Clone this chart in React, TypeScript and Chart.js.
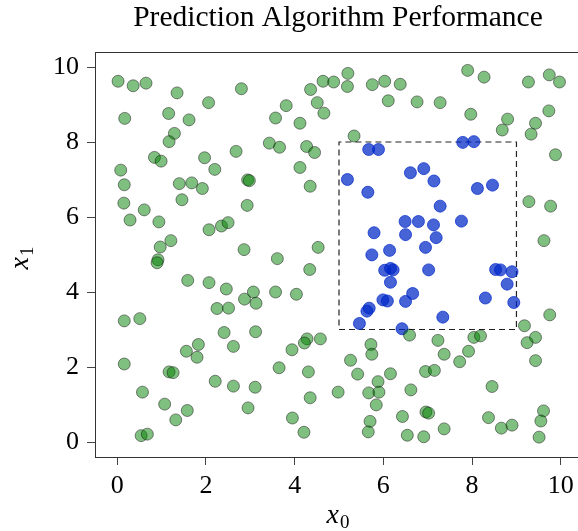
import { useEffect, useRef } from 'react';
import { Chart, registerables } from 'chart.js';

Chart.register(...registerables);

const titleText = 'Prediction Algorithm Performance';
const xTicks = [0, 2, 4, 6, 8, 10];
const yTicks = [0, 2, 4, 6, 8, 10];
const xRange = [-0.5, 10.5];
const yRange = [-0.4, 10.4];

// dashed region corners
const boxX = [5, 9, 9, 5, 5];
const boxY = [3, 3, 8, 8, 3];

// points inside region (blue)
const insidePoints: [number, number][] = [
  [5.67, 7.80], [5.89, 7.80], [5.19, 7.00], [6.61, 7.18], [6.91, 7.29], [7.14, 6.96],
  [7.79, 7.99], [8.04, 8.01], [8.12, 6.76], [8.46, 6.85], [5.65, 6.66], [7.28, 6.29],
  [6.49, 5.88], [6.79, 5.88], [7.13, 5.79], [7.76, 5.89], [6.50, 5.53], [5.79, 5.58],
  [7.19, 5.45], [5.74, 4.99], [6.14, 5.11], [6.95, 5.19], [6.03, 4.58], [6.16, 4.63],
  [6.22, 4.59], [7.02, 4.59], [8.53, 4.60], [8.64, 4.59], [8.90, 4.54], [6.16, 4.26],
  [8.79, 4.21], [6.66, 3.96], [5.99, 3.79], [6.09, 3.76], [6.50, 3.75], [8.30, 3.84],
  [8.94, 3.72], [5.68, 3.57], [5.63, 3.49], [7.34, 3.33], [5.46, 3.16], [6.42, 3.02],
];

// points outside region (green)
const outsidePoints: [number, number][] = [
  [0.02, 9.62], [0.36, 9.50], [0.65, 9.57], [1.35, 9.31], [2.80, 9.42], [2.06, 9.05],
  [0.17, 8.63], [1.16, 8.76], [1.62, 8.59], [1.29, 8.23], [1.17, 8.01], [0.84, 7.59],
  [0.99, 7.49], [1.97, 7.58], [2.68, 7.75], [0.08, 7.25], [2.20, 7.27], [2.94, 6.99],
  [2.98, 6.97], [0.16, 6.86], [1.40, 6.89], [1.68, 6.91], [1.92, 6.76], [5.20, 9.83],
  [4.64, 9.62], [4.88, 9.60], [5.19, 9.48], [5.75, 9.53], [6.03, 9.62], [6.38, 9.54],
  [4.36, 9.40], [6.11, 9.10], [3.81, 8.97], [4.51, 9.05], [4.66, 8.77], [3.57, 8.64],
  [4.12, 8.50], [5.34, 8.16], [3.43, 7.97], [3.66, 7.86], [4.27, 7.88], [4.45, 7.72],
  [4.12, 7.32], [4.35, 6.82], [7.90, 9.91], [8.27, 9.73], [9.27, 9.60], [9.74, 9.79],
  [9.97, 9.60], [6.76, 9.07], [7.28, 9.05], [7.97, 8.74], [8.80, 8.61], [9.73, 8.83],
  [9.43, 8.50], [8.68, 8.32], [9.33, 8.21], [9.88, 7.66], [0.15, 6.37], [0.61, 6.19],
  [0.29, 5.92], [0.94, 5.87], [1.46, 6.46], [2.93, 6.31], [2.07, 5.66], [2.35, 5.76],
  [2.50, 5.85], [1.21, 5.37], [0.97, 5.20], [0.92, 4.86], [0.90, 4.78], [2.86, 5.13],
  [1.59, 4.31], [2.07, 4.25], [2.46, 4.08], [3.07, 4.00], [2.87, 3.81], [3.13, 3.70],
  [2.25, 3.56], [2.51, 3.57], [0.16, 3.23], [0.51, 3.29], [4.53, 5.19], [3.61, 4.89],
  [4.34, 4.60], [3.57, 4.00], [4.04, 3.94], [9.28, 6.41], [9.77, 6.29], [9.62, 5.37],
  [9.75, 3.39], [9.18, 3.10], [2.41, 2.92], [3.12, 2.94], [1.83, 2.60], [2.62, 2.55],
  [1.56, 2.42], [1.80, 2.26], [0.16, 2.08], [1.17, 1.87], [1.26, 1.85], [2.21, 1.62],
  [2.62, 1.49], [3.11, 1.46], [0.57, 1.33], [1.07, 1.01], [1.58, 0.84], [1.32, 0.59],
  [2.95, 0.91], [0.54, 0.17], [0.68, 0.21], [4.28, 2.75], [4.22, 2.64], [4.58, 2.75],
  [3.94, 2.46], [5.72, 2.60], [5.74, 2.34], [5.26, 2.18], [3.65, 1.98], [4.31, 1.87],
  [5.42, 1.81], [6.16, 1.82], [5.88, 1.61], [4.98, 1.33], [5.67, 1.31], [5.90, 1.33],
  [4.35, 1.18], [5.84, 0.99], [6.62, 1.39], [3.95, 0.64], [5.70, 0.55], [6.43, 0.68],
  [4.21, 0.26], [5.66, 0.27], [6.54, 0.18], [6.59, 2.85], [7.23, 2.71], [8.04, 2.79],
  [8.19, 2.83], [9.43, 2.79], [9.24, 2.65], [7.37, 2.34], [7.92, 2.42], [7.72, 2.14],
  [9.43, 2.17], [6.95, 1.88], [7.15, 1.91], [8.45, 1.48], [6.96, 0.80], [7.02, 0.77],
  [8.37, 0.65], [9.61, 0.83], [9.55, 0.56], [8.66, 0.37], [8.90, 0.45], [7.37, 0.35],
  [6.91, 0.14], [9.51, 0.13],
];

const SERIF = '"Liberation Serif", "DejaVu Serif", serif';

function drawMathLabel(ctx: CanvasRenderingContext2D, base: string, sub: string, x: number, y: number, rotate: boolean) {
  ctx.save();
  ctx.translate(x, y);
  if (rotate) ctx.rotate(-Math.PI / 2);
  ctx.textBaseline = 'alphabetic';
  ctx.textAlign = 'left';
  ctx.font = `italic 28px ${SERIF}`;
  const wb = ctx.measureText(base).width;
  ctx.font = `19px ${SERIF}`;
  const ws = ctx.measureText(sub).width;
  const total = wb + ws + 1;
  ctx.fillStyle = '#000';
  ctx.font = `italic 28px ${SERIF}`;
  ctx.fillText(base, -total / 2, 8);
  ctx.font = `19px ${SERIF}`;
  ctx.fillText(sub, -total / 2 + wb + 1, 13);
  ctx.restore();
}

const decorPlugin = {
  id: 'decor',
  afterDraw(chart: any) {
    const { ctx, chartArea: a } = chart;
    ctx.save();
    ctx.strokeStyle = '#333';
    ctx.lineWidth = 1;
    ctx.beginPath();
    ctx.moveTo(a.left, a.top + 0.5);
    ctx.lineTo(a.right, a.top + 0.5);
    ctx.lineTo(a.right, a.bottom);
    ctx.stroke();
    ctx.fillStyle = '#000';
    ctx.font = `29.5px ${SERIF}`;
    ctx.textAlign = 'center';
    ctx.textBaseline = 'alphabetic';
    ctx.fillText(titleText, (a.left + a.right) / 2 - 1, 26);
    ctx.restore();
    drawMathLabel(ctx, 'x', '0', 338, 515, false);
    drawMathLabel(ctx, 'x', '1', 20, 258, true);
  },
};

export default function App() {
  const ref = useRef<HTMLCanvasElement>(null);
  useEffect(() => {
    const canvas = ref.current!;
    const tickFont = { family: SERIF, size: 26 };
    const chart = new Chart(canvas, {
      type: 'scatter',
      data: {
        datasets: [
          {
            label: 'outside',
            data: outsidePoints.map(([x, y]) => ({ x, y })),
            backgroundColor: 'rgba(0,128,0,0.5)',
            borderColor: 'rgba(0,0,0,0.45)',
            borderWidth: 1,
            pointRadius: 6,
          },
          {
            label: 'inside',
            data: insidePoints.map(([x, y]) => ({ x, y })),
            backgroundColor: 'rgba(0,40,200,0.72)',
            borderColor: 'rgba(0,40,200,0.72)',
            borderWidth: 1,
            pointRadius: 6,
          },
          {
            label: 'region',
            data: boxX.map((x, i) => ({ x, y: boxY[i] })),
            showLine: true,
            borderColor: '#222',
            borderWidth: 1.2,
            borderDash: [6, 4],
            pointRadius: 0,
            fill: false,
          } as any,
        ],
      },
      options: {
        animation: false,
        responsive: false,
        devicePixelRatio: 1,
        layout: { padding: { top: 52, left: 0, right: 7, bottom: 0 } },
        plugins: { legend: { display: false }, tooltip: { enabled: false }, title: { display: false } },
        scales: {
          x: {
            type: 'linear',
            min: xRange[0],
            max: xRange[1],
            afterBuildTicks: (s: any) => { s.ticks = xTicks.map((v) => ({ value: v })); },
            afterFit: (s: any) => { s.height = 74; },
            ticks: { font: tickFont, color: '#000', padding: 6, maxRotation: 0 },
            grid: { drawOnChartArea: false, drawTicks: true, tickLength: 8, color: '#444' },
            border: { display: true, color: '#333', width: 1 },
          },
          y: {
            type: 'linear',
            min: yRange[0],
            max: yRange[1],
            afterBuildTicks: (s: any) => { s.ticks = yTicks.map((v) => ({ value: v })); },
            afterFit: (s: any) => { s.width = 95; },
            ticks: { font: tickFont, color: '#000', padding: 8 },
            grid: { drawOnChartArea: false, drawTicks: true, tickLength: 8, color: '#444' },
            border: { display: true, color: '#333', width: 1 },
          },
        },
      },
      plugins: [decorPlugin],
    });
    return () => chart.destroy();
  }, []);
  return (
    <div style={{ position: 'absolute', left: 0, top: 0, width: 578, height: 531, overflow: 'hidden', background: '#fff' }}>
      <canvas ref={ref} width={590} height={531} style={{ display: 'block', width: 590, height: 531 }} />
    </div>
  );
}
